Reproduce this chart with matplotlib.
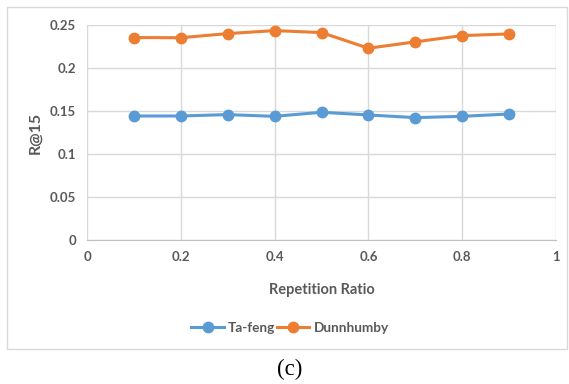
import matplotlib
matplotlib.use("Agg")
import matplotlib.pyplot as plt
from matplotlib.patches import Rectangle

ratios = [0.1, 0.2, 0.3, 0.4, 0.5, 0.6, 0.7, 0.8, 0.9]
tafeng = [0.1442, 0.1442, 0.1458, 0.1438, 0.1485, 0.1454, 0.1423, 0.1438, 0.1465]
dunnhumby = [0.2354, 0.2352, 0.2400, 0.2435, 0.2412, 0.2230, 0.2304, 0.2377, 0.2396]
xticks = [0, 0.2, 0.4, 0.6, 0.8, 1]
xtick_labels = ["0", "0.2", "0.4", "0.6", "0.8", "1"]
yticks = [0, 0.05, 0.1, 0.15, 0.2, 0.25]
ytick_labels = ["0", "0.05", "0.1", "0.15", "0.2", "0.25"]

plt.rcParams['font.family'] = ['Lato', 'DejaVu Sans']
gray = '#595959'

fig = plt.figure(figsize=(5.69, 3.84), dpi=100)
fig.patches.append(Rectangle((7/569, 1-349/384), (567-7)/569, (349-7)/384,
                             transform=fig.transFigure, fill=False,
                             edgecolor='#D9D9D9', linewidth=1.0))
ax = fig.add_axes([87/569, 1-240/384, (556-87)/569, (240-25)/384])
ax.plot(ratios, tafeng, color='#5B9BD5', marker='o', markersize=7.5, linewidth=2.2, label='Ta-feng')
ax.plot(ratios, dunnhumby, color='#ED7D31', marker='o', markersize=7.5, linewidth=2.2, label='Dunnhumby')
ax.set_xlim(0, 1)
ax.set_ylim(0, 0.25)
ax.set_xticks(xticks)
ax.set_xticklabels(xtick_labels)
ax.set_yticks(yticks)
ax.set_yticklabels(ytick_labels)
ax.grid(True, color='#D9D9D9', linewidth=1)
ax.set_axisbelow(True)
for s in ['top', 'right']:
    ax.spines[s].set_visible(False)
ax.spines['left'].set_color('#D9D9D9')
ax.spines['bottom'].set_color('#BFBFBF')
ax.tick_params(length=0, labelsize=9.5, labelcolor=gray, pad=8)
for lab in ax.get_xticklabels() + ax.get_yticklabels():
    lab.set_fontweight('bold')
ax.set_xlabel('Repetition Ratio', fontsize=10.5, fontweight='bold', color=gray, labelpad=14)
ax.set_ylabel('R@15', fontsize=11.5, fontweight='bold', color=gray, labelpad=5)
leg = fig.legend(loc='center', bbox_to_anchor=(290/569, 1-328/384), ncol=2, frameon=False,
                 fontsize=9.8, handlelength=2.4, columnspacing=0.1, handletextpad=0.3)
for t in leg.get_texts():
    t.set_color(gray)
    t.set_fontweight('bold')
fig.text(290/569, 1-369/384, '(c)', ha='center', va='center', fontsize=16.5,
         family=['Liberation Serif', 'DejaVu Serif'])
fig.savefig('out.png', dpi=100)
